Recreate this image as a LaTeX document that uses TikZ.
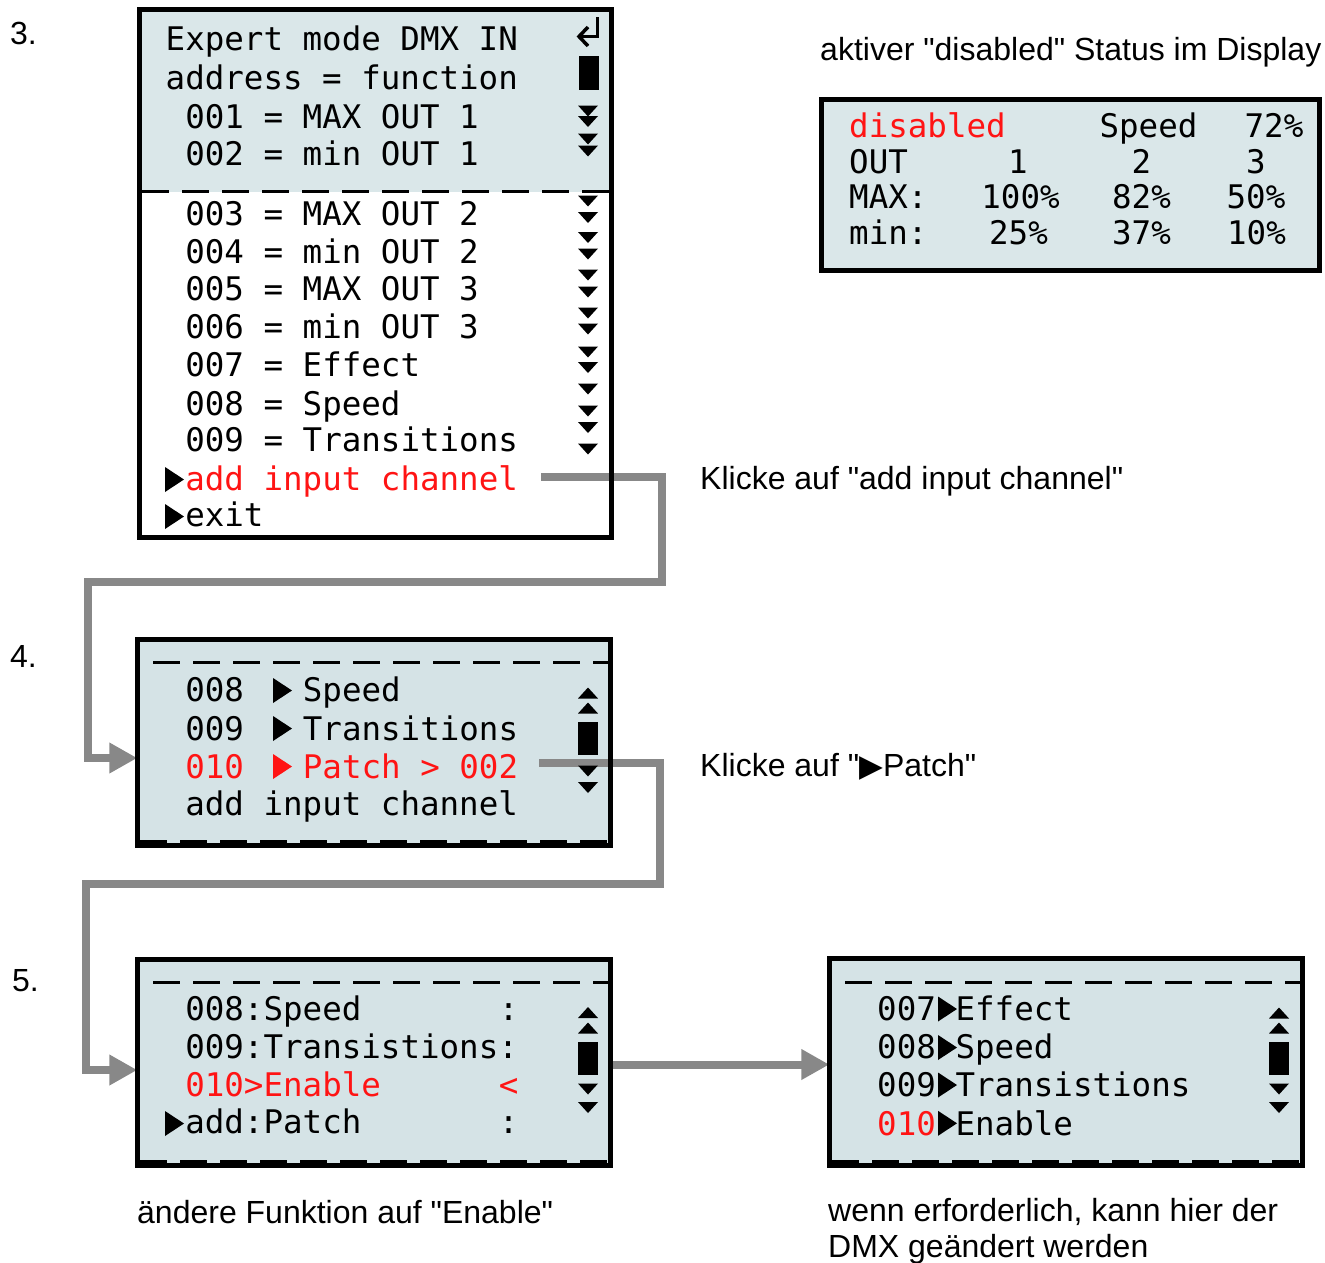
\documentclass[tikz,border=0pt]{standalone}
\usepackage{fontspec}
\setmainfont{Liberation Sans}
\newfontfamily\capfont{Liberation Sans}
\newfontfamily\lcdfont{DejaVu Sans Mono}
\newfontfamily\symfont{DejaVu Sans}
\usetikzlibrary{arrows.meta}
\definecolor{lcdbg}{HTML}{D5E3E6}
\definecolor{lcdbgtop}{HTML}{DAE7E9}
\definecolor{conngray}{HTML}{888888}
\definecolor{lcdred}{HTML}{FF1414}
\tikzset{
  lcdtxt/.style={font=\lcdfont\fontsize{32.5}{34}\selectfont, inner sep=0pt, anchor=base west},
  lcdmid/.style={lcdtxt, anchor=base},
  captxt/.style={font=\capfont\fontsize{32}{36}\selectfont, inner sep=0pt, anchor=base west},
  connarrow/.style={draw=conngray, line width=8pt, line join=miter, -{Triangle[length=28pt, width=29pt]}},
  lcdfill/.style={fill=lcdbg, inner sep=0pt, draw=none},
  lcdborder/.style={draw=black, line width=5pt},
  dashln/.style={draw=black, line width=3pt, dash pattern=on 27pt off 13pt},
}
\newcommand\lcddown[2]{\fill (#1-10,#2-5.5) -- (#1+10,#2-5.5) -- (#1,#2+5.5) -- cycle;}
\newcommand\lcdup[2]{\fill (#1-10,#2+5.5) -- (#1+10,#2+5.5) -- (#1,#2-5.5) -- cycle;}
\newcommand\lcdplay[3][black]{\fill[#1] (#2,#3-12.5) -- (#2,#3+12.5) -- (#2+19,#3) -- cycle;}
\begin{document}
\begin{tikzpicture}[x=1pt,y=-1pt]
\useasboundingbox (0,0) rectangle (1325,1262);

% ---------- screen backgrounds ----------
\node[lcdfill, fill=white, minimum width=472pt, minimum height=528pt] (s1) at (375.5,273.5) {};
\fill[lcdbgtop] (139.5,9.5) rectangle (611.5,191.5);
\node[lcdfill, fill=lcdbgtop, minimum width=498pt, minimum height=171pt] (s2) at (1070.5,185) {};
\node[lcdfill, minimum width=473pt, minimum height=206pt] (s4) at (374,742.5) {};
\node[lcdfill, minimum width=473pt, minimum height=206pt] (s5) at (374,1062.5) {};
\node[lcdfill, minimum width=473pt, minimum height=207pt] (s6) at (1066,1062) {};

% ---------- connectors ----------
\coordinate (c1s) at (541,477);
\coordinate (c1a) at (662,477);
\coordinate (c1b) at (662,582);
\coordinate (c1c) at (87.5,582);
\coordinate (c1d) at (87.5,758);
\draw[connarrow] (c1s) -- (c1a) -- (c1b) -- (c1c) -- (c1d) -- (s4.west |- c1d);

\coordinate (c2s) at (539,763);
\coordinate (c2a) at (660,763);
\coordinate (c2b) at (660,884);
\coordinate (c2c) at (86,884);
\coordinate (c2d) at (86,1070);
\draw[connarrow] (c2s) -- (c2a) -- (c2b) -- (c2c) -- (c2d) -- (s5.west |- c2d);

\coordinate (c3) at (0,1064.5);
\draw[connarrow] (s5.east |- c3) -- (s6.west |- c3);

% ---------- dashed separators ----------
\draw[dashln] (142,191.5) -- (609,191.5);
\draw[dashln] (153,662) -- (608,662);
\draw[dashln] (140,841) -- (608,841);
\draw[dashln] (153,982) -- (608,982);
\draw[dashln] (140,1161) -- (608,1161);
\draw[dashln] (845,982) -- (1300,982);
\draw[dashln] (832,1161) -- (1300,1161);

% ---------- screen 3 (main menu) ----------
\node[lcdtxt] (l1) at (165.5,50.5) {Expert mode DMX IN};
\node[lcdtxt] (l2) at (165.5,89.5) {address = function};
\node[lcdtxt] (l3) at (185.1,128.3) {001 = MAX OUT 1};
\node[lcdtxt] (l4) at (185.1,165.7) {002 = min OUT 1};
\node[lcdtxt] (l5) at (185.1,225) {003 = MAX OUT 2};
\node[lcdtxt] (l6) at (185.1,263.3) {004 = min OUT 2};
\node[lcdtxt] (l7) at (185.1,300) {005 = MAX OUT 3};
\node[lcdtxt] (l8) at (185.1,338.3) {006 = min OUT 3};
\node[lcdtxt] (l9) at (185.1,376.7) {007 = Effect};
\node[lcdtxt] (l10) at (185.1,415) {008 = Speed};
\node[lcdtxt] (l11) at (185.1,451.7) {009 = Transitions};
\node[lcdtxt, text=lcdred] (l12) at (185.1,490) {add input channel};
\node[lcdtxt] (l13) at (185.1,526.7) {exit};
\lcdplay{165}{479.5}
\lcdplay{165}{516.5}
% enter symbol
\draw[line width=3.5pt] (597.5,17) -- (597.5,36.5) -- (580,36.5);
\draw[line width=3.5pt] (588,27) -- (579,36.5) -- (588,46);
\fill (579,56) rectangle (599,90);
\foreach \yy in {111,121.5,139,151,201,217.5,237.5,254,275,292,313,329,352,367.5,389,411,427.5,449}{\lcddown{588}{\yy}}

% ---------- status display ----------
\node[lcdtxt, text=lcdred] (d1) at (849,137) {disabled};
\node[lcdmid] (d2) at (1148.5,137) {Speed};
\node[lcdmid] (d3) at (1274,137) {72\%};
\node[lcdtxt] (d4) at (849,173) {OUT};
\node[lcdmid] (d5) at (1018,173) {1};
\node[lcdmid] (d6) at (1141.5,173) {2};
\node[lcdmid] (d7) at (1256,173) {3};
\node[lcdtxt] (d8) at (849,208) {MAX:};
\node[lcdmid] (d9) at (1020.5,208) {100\%};
\node[lcdmid] (d10) at (1141.5,208) {82\%};
\node[lcdmid] (d11) at (1256,208) {50\%};
\node[lcdtxt] (d12) at (849,244) {min:};
\node[lcdmid] (d13) at (1018.5,244) {25\%};
\node[lcdmid] (d14) at (1141.5,244) {37\%};
\node[lcdmid] (d15) at (1256.5,244) {10\%};

% ---------- screen 4 ----------
\node[lcdtxt] (m1) at (185.1,701.7) {008};
\node[lcdtxt] (m2) at (302.7,701.7) {Speed};
\lcdplay{273}{690.5}
\node[lcdtxt] (m3) at (185.1,740) {009};
\node[lcdtxt] (m4) at (302.7,740) {Transitions};
\lcdplay{273}{728.5}
\node[lcdtxt, text=lcdred] (m5) at (185.1,778.3) {010};
\node[lcdtxt, text=lcdred] (m6) at (302.7,778.3) {Patch > 002};
\lcdplay[lcdred]{273}{766.5}
\node[lcdtxt] (m7) at (185.1,815) {add input channel};
\lcdup{588}{693} \lcdup{588}{708}
\fill (577.5,722) rectangle (598,755);
\lcddown{588}{771} \lcddown{588}{787.5}

% ---------- screen 5 ----------
\node[lcdtxt] (p1) at (185.1,1020.7) {008:Speed};
\node[lcdtxt] (p2) at (498.7,1020.7) {:};
\node[lcdtxt] (p3) at (185.1,1058.3) {009:Transistions:};
\node[lcdtxt, text=lcdred] (p4) at (185.1,1096.7) {010>Enable};
\node[lcdtxt, text=lcdred] (p5) at (498.7,1096.7) {<};
\node[lcdtxt] (p6) at (185.1,1133.3) {add:Patch};
\node[lcdtxt] (p7) at (498.7,1133.3) {:};
\lcdplay{165}{1123.5}
\lcdup{588}{1012.5} \lcdup{588}{1028}
\fill (577.5,1042) rectangle (598,1075);
\lcddown{588}{1089} \lcddown{588}{1107.5}

% ---------- screen 6 ----------
\node[lcdtxt] (q1) at (877,1020) {007};
\node[lcdtxt] (q2) at (955.4,1020) {Effect};
\lcdplay{938}{1009}
\node[lcdtxt] (q3) at (877,1058.3) {008};
\node[lcdtxt] (q4) at (955.4,1058.3) {Speed};
\lcdplay{938}{1047.5}
\node[lcdtxt] (q5) at (877,1096.7) {009};
\node[lcdtxt] (q6) at (955.4,1096.7) {Transistions};
\lcdplay{938}{1085}
\node[lcdtxt, text=lcdred] (q7) at (877,1135) {010};
\node[lcdtxt] (q8) at (955.4,1135) {Enable};
\lcdplay{938}{1123.3}
\lcdup{1279}{1013} \lcdup{1279}{1028}
\fill (1269,1042) rectangle (1289,1075);
\lcddown{1279}{1089} \lcddown{1279}{1107.5}

% ---------- borders ----------
\draw[lcdborder] (s1.north west) rectangle (s1.south east);
\draw[lcdborder] (s2.north west) rectangle (s2.south east);
\draw[lcdborder] (s4.north west) rectangle (s4.south east);
\draw[lcdborder] (s5.north west) rectangle (s5.south east);
\draw[lcdborder] (s6.north west) rectangle (s6.south east);

% ---------- captions ----------
\node[captxt] (n3) at (10,44) {3.};
\node[captxt] (n4) at (10,667) {4.};
\node[captxt] (n5) at (12,991) {5.};
\node[captxt] (capA) at (820,60) {aktiver "disabled" Status im Display};
\node[captxt] (capB) at (700,489) {Klicke auf "add input channel"};
\node[captxt] (capC) at (700,776) {Klicke auf "{\symfont\fontsize{31}{31}\selectfont ▶}Patch"};
\node[captxt] (capD) at (137,1223) {ändere Funktion auf "Enable"};
\node[captxt] (capE1) at (828,1221) {wenn erforderlich, kann hier der};
\node[captxt] (capE2) at (828,1257) {DMX geändert werden};
\end{tikzpicture}
\end{document}
